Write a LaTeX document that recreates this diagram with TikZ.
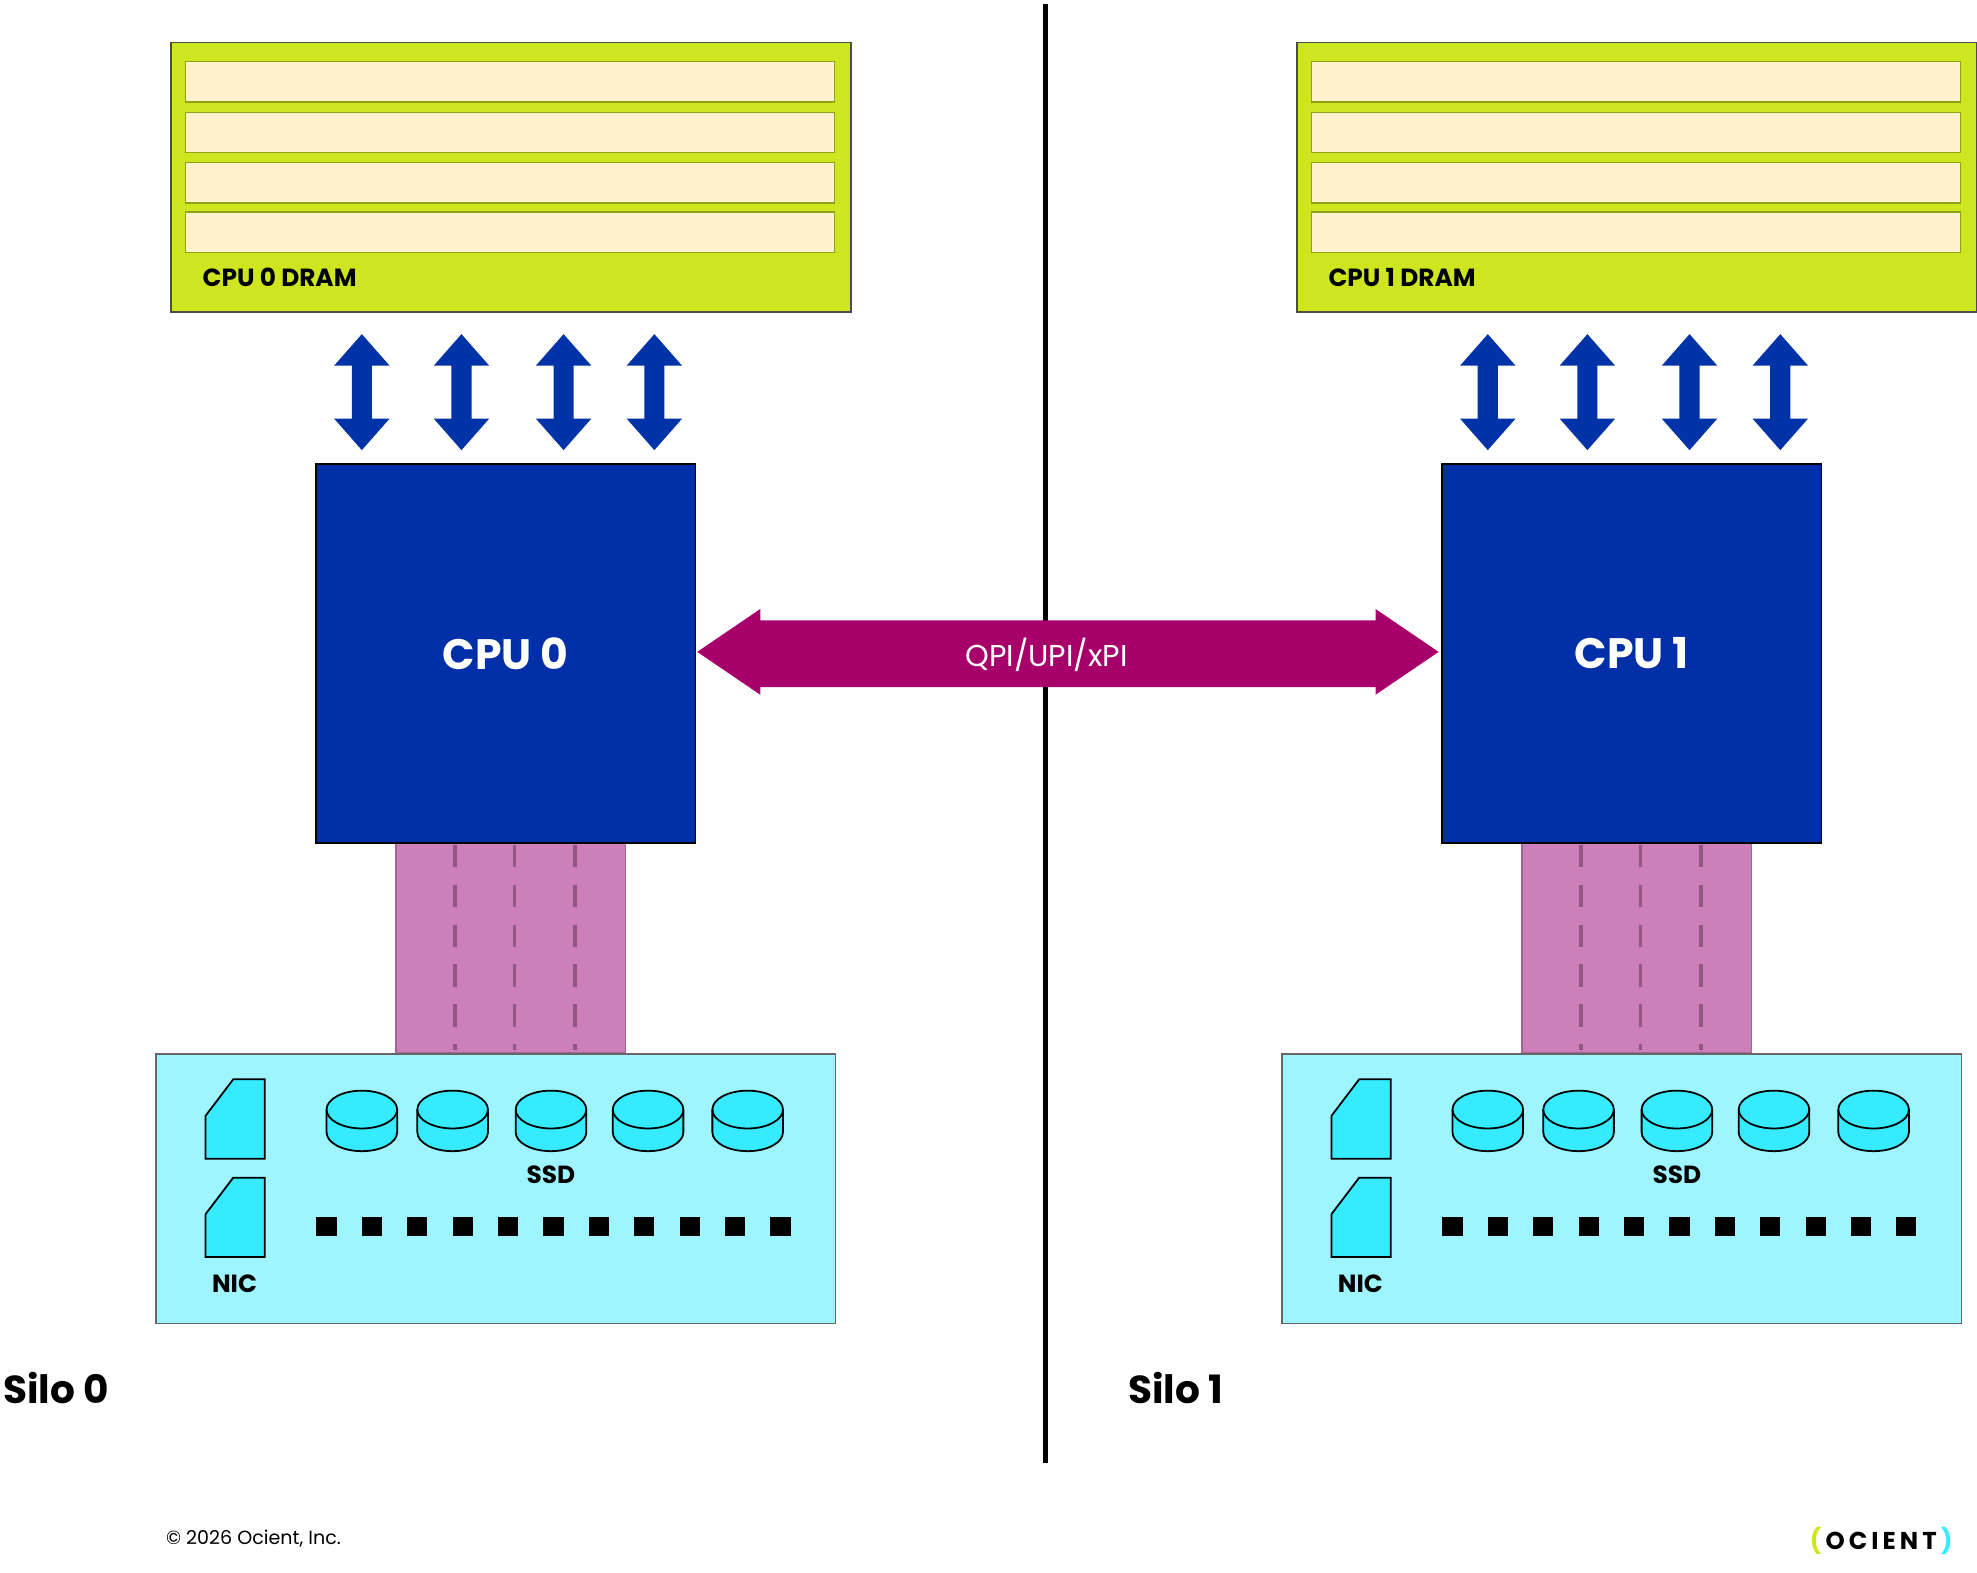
\documentclass[tikz,border=0pt]{standalone}
\usepackage{fontspec}
\setmainfont{Poppins}
\begin{document}
\begin{tikzpicture}[x=0.01cm,y=-0.01cm,
  dram/.style={draw=black!70,fill=dramg,line width=0.4pt},
  stripe/.style={draw=dramg!70!black,fill=stripec,line width=0.3pt},
  cpu/.style={draw=black,fill=cpub,line width=0.4pt},
  bus/.style={fill=busp,draw=busp!80!black,line width=0.3pt},
  busdash/.style={draw=busp!70!black,line width=0.8pt,dash pattern=on 5pt off 4pt},
  stor/.style={draw=black!60,fill=storc,line width=0.4pt},
  dev/.style={draw=black,fill=cylc,line width=0.4pt},
  lbl/.style={font=\fontsize{5.6}{7}\selectfont\bfseries,inner sep=0pt}]
\definecolor{dramg}{HTML}{CDE61F}
\definecolor{stripec}{HTML}{FFF2CC}
\definecolor{cpub}{HTML}{002FA7}
\definecolor{busp}{HTML}{CC7FB9}
\definecolor{storc}{HTML}{9EF5FF}
\definecolor{cylc}{HTML}{36EBFF}
\definecolor{qpi}{HTML}{A8006B}
\definecolor{arrb}{HTML}{0033A8}
\useasboundingbox (0,0) rectangle (1568,1247);
\foreach \o/\n in {0/0,893/1}{
 \begin{scope}[xshift=\o*0.01cm]
  \node[dram,minimum width=539*0.01cm,minimum height=214*0.01cm,anchor=north west,inner sep=0pt] (dram\n) at (135,33) {};
  \foreach \yy in {49,89,129,168}
    \draw[stripe] (147,\yy) rectangle (662,\yy+32);
  \node[lbl,anchor=west] (dl\n) at (160,220) {CPU \n\ DRAM};
  \foreach \xx in {287,366,447,519}
    \fill[arrb] (\xx,265) -- (\xx+22,290) -- (\xx+8,290) -- (\xx+8,332) -- (\xx+22,332) -- (\xx,357) -- (\xx-22,332) -- (\xx-8,332) -- (\xx-8,290) -- (\xx-22,290) -- cycle;
  \draw[bus] (314,668) rectangle (496,835);
  \foreach \xx in {361,408,456} \draw[busdash] (\xx,670) -- (\xx,833);
  \node[cpu,minimum width=301*0.01cm,minimum height=301*0.01cm,anchor=north west,inner sep=0pt] (cpu\n) at (250,367) {};
  \node[font=\fontsize{9.6}{12}\selectfont\bfseries,text=white] at (cpu\n.center) {CPU \n};
  \node[stor,minimum width=539*0.01cm,minimum height=214*0.01cm,anchor=north west,inner sep=0pt] (st\n) at (123,835) {};
  \foreach \yy in {856,934}
    \draw[dev] (163,\yy+29) -- (185,\yy) -- (210,\yy) -- (210,\yy+63) -- (163,\yy+63) -- cycle;
  \node[lbl] (nic\n) at (186,1018) {NIC};
  \foreach \xx in {287,359,437,514,593}{
    \draw[dev] (\xx-28,880) -- (\xx-28,898) arc[start angle=180,end angle=360,x radius=28,y radius=-15] -- (\xx+28,880) arc[start angle=0,end angle=180,x radius=28,y radius=-15] -- cycle;
    \draw[line width=0.4pt] (\xx-28,880) arc[start angle=180,end angle=360,x radius=28,y radius=-15];
  }
  \node[lbl] (ssd\n) at (437,932) {SSD};
  \foreach \i in {0,...,10}
    \fill (251+\i*36,965) rectangle ++(16,15);
 \end{scope}}
\draw[line width=1.2pt] (829,3) -- (829,1160);
\fill[qpi] (553,517) -- (603,483) -- (603,492) -- (1091,492) -- (1091,483) -- (1141,517) -- (1091,551) -- (1091,545) -- (603,545) -- (603,551) -- cycle;
\node[text=white,font=\fontsize{6.8}{8}\selectfont] (qpil) at (830,519) {QPI/UPI/xPI};
\node[font=\fontsize{8.8}{11}\selectfont\bfseries,anchor=west,inner sep=0pt] (s0) at (2,1101) {Silo 0};
\node[font=\fontsize{8.8}{11}\selectfont\bfseries,anchor=west,inner sep=0pt] (s1) at (894,1101) {Silo 1};
\node[font=\fontsize{4.3}{5}\selectfont,anchor=west,inner sep=0pt] (cp) at (131,1220) {© 2026 Ocient, Inc.};
\node[font=\fontsize{5.5}{6}\selectfont\bfseries,inner sep=0pt] (logo) at (1492,1222) {\textcolor{dramg}{(}\,O\,C\,I\,E\,N\,T\,\textcolor{cylc}{)}};
\end{tikzpicture}
\end{document}
